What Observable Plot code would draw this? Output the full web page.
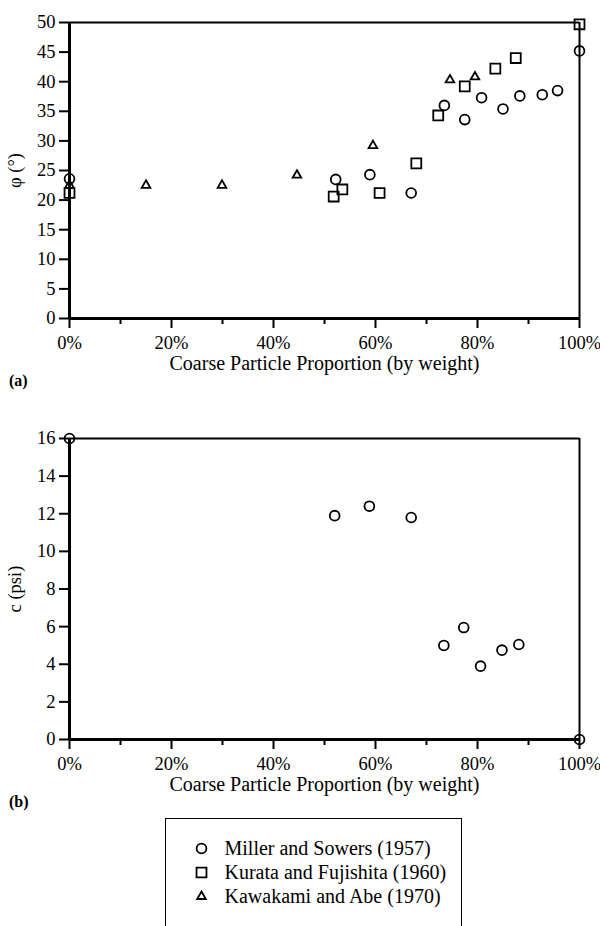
<!DOCTYPE html>
<html><head><meta charset="utf-8">
<script src="https://cdn.jsdelivr.net/npm/d3@7"></script>
<script src="https://cdn.jsdelivr.net/npm/@observablehq/plot@0.6"></script>
<style>
html,body{margin:0;padding:0;background:#fff;overflow:hidden}
#page{position:relative;width:600px;height:926px;font-family:"Liberation Serif",serif;color:#000;background:#fff}
#page svg, #page svg text{font-family:"Liberation Serif",serif !important}
.tag{position:absolute;font-weight:bold;font-size:16px;font-family:"Liberation Serif",serif}
#legend{position:absolute;left:165px;top:818px;width:297px;height:140px;border:1.5px solid #000;box-sizing:border-box}
</style></head><body><div id="page"></div>
<script>
// ---- data ----
const series = ["Miller and Sowers (1957)", "Kurata and Fujishita (1960)", "Kawakami and Abe (1970)"];
const symbols = ["circle", "square", "triangle"];
const xTitle = "Coarse Particle Proportion (by weight)";

// (a) friction angle phi (degrees) vs coarse proportion (%)
const millerPhiX = [0, 52.2, 58.9, 67.0, 73.5, 77.5, 80.8, 85.0, 88.3, 92.7, 95.7, 100];
const millerPhi  = [23.6, 23.5, 24.3, 21.2, 36.0, 33.6, 37.3, 35.4, 37.6, 37.8, 38.5, 45.2];
const kurataPhiX = [0, 51.8, 53.5, 60.8, 68.0, 72.3, 77.5, 83.5, 87.5, 100];
const kurataPhi  = [21.2, 20.6, 21.8, 21.2, 26.2, 34.3, 39.2, 42.2, 44.0, 49.7];
const kawakamiPhiX = [0, 15.0, 29.9, 44.6, 59.5, 74.6, 79.5];
const kawakamiPhi  = [22.5, 22.5, 22.5, 24.2, 29.2, 40.3, 40.8];

// (b) cohesion c (psi) vs coarse proportion (%)
const millerCX = [0, 52.0, 58.8, 67.0, 73.4, 77.3, 80.6, 84.8, 88.1, 100];
const millerC  = [16.0, 11.9, 12.4, 11.8, 5.0, 5.95, 3.9, 4.75, 5.05, 0];

// ticks
const xMajorTicks = [0, 20, 40, 60, 80, 100];
const xMinorTicks = [10, 30, 50, 70, 90];
const phiTicks = [0, 5, 10, 15, 20, 25, 30, 35, 40, 45, 50];
const cTicks = [0, 2, 4, 6, 8, 10, 12, 14, 16];

// ---- helpers ----
const FONT = "Liberation Serif";
const FS_TICK = 18.5;
const FS = 20;
const R = {circle: 4.9, square: 5.6, triangle: 3.2};
const rows = (xs, ys) => xs.map((x, i) => ({x, y: ys[i]}));
const dotsFor = (data, sym) => Plot.dot(data, {x: "x", y: "y", symbol: sym, r: R[sym], stroke: "black", strokeWidth: 1.8, fill: "none"});

function chart({height, marginTop, marginBottom, yMax, yTicks, yLabel, sets}) {
  return Plot.plot({
    width: 600, height, marginTop, marginBottom, marginLeft: 69, marginRight: 21,
    style: {fontFamily: FONT, fontSize: FS_TICK + "px", color: "black", background: "white", overflow: "visible"},
    x: {domain: [0, 100]},
    y: {domain: [0, yMax]},
    marks: [
      Plot.ruleY([yMax], {strokeWidth: 2}),
      Plot.ruleX([100], {strokeWidth: 2}),
      Plot.axisY({ticks: yTicks, tickSize: 10, tickPadding: 4, strokeWidth: 2, fontSize: FS_TICK, fontFamily: FONT, label: yLabel, labelAnchor: "center", labelOffset: 62, labelArrow: "none"}),
      Plot.axisX({ticks: xMajorTicks, tickSize: 10, tickPadding: 7, strokeWidth: 2, fontSize: FS_TICK, fontFamily: FONT, tickFormat: d => d + "%", label: null}),
      Plot.axisX({ticks: xMinorTicks, tickSize: 6, strokeWidth: 2, tickFormat: () => "", label: null}),
      Plot.text([xTitle], {text: d => d, frameAnchor: "bottom", dy: 45, lineAnchor: "middle", fontSize: FS, fontFamily: FONT}),
      Plot.ruleX([0], {strokeWidth: 3}),
      Plot.ruleY([0], {strokeWidth: 3}),
      ...sets.map(([data, sym]) => dotsFor(data, sym))
    ]
  });
}

const page = document.getElementById("page");
function place(el, left, top) { el.style.position = "absolute"; el.style.left = left + "px"; el.style.top = top + "px"; page.appendChild(el); }

const chartA = chart({
  height: 380, marginTop: 22, marginBottom: 62, yMax: 50, yTicks: phiTicks, yLabel: "φ (°)",
  sets: [[rows(millerPhiX, millerPhi), "circle"], [rows(kurataPhiX, kurataPhi), "square"], [rows(kawakamiPhiX, kawakamiPhi), "triangle"]]
});
place(chartA, 0, 0);

const chartB = chart({
  height: 401, marginTop: 38, marginBottom: 62, yMax: 16, yTicks: cTicks, yLabel: "c (psi)",
  sets: [[rows(millerCX, millerC), "circle"]]
});
place(chartB, 0, 400);

const tagA = document.createElement("div"); tagA.className = "tag"; tagA.textContent = "(a)"; place(tagA, 9, 372);
const tagB = document.createElement("div"); tagB.className = "tag"; tagB.textContent = "(b)"; place(tagB, 9, 793);

// legend
const legendBox = document.createElement("div"); legendBox.id = "legend"; page.appendChild(legendBox);
const legendRows = series.map((name, i) => ({name, symbol: symbols[i]}));
const legend = Plot.plot({
  width: 294, height: 120, margin: 0,
  style: {fontFamily: FONT, fontSize: FS + "px", color: "black", background: "transparent"},
  x: {domain: [0, 1], axis: null},
  y: {type: "point", domain: series, range: [16, 89], axis: null},
  marks: [
    ...legendRows.map(d => Plot.dot([d], {y: "name", frameAnchor: "left", dx: 35, symbol: d.symbol, r: R[d.symbol], stroke: "black", strokeWidth: 1.8, fill: "none"})),
    Plot.text(legendRows, {y: "name", text: "name", frameAnchor: "left", dx: 58, textAnchor: "start", lineAnchor: "middle", fontSize: FS, fontFamily: FONT})
  ]
});
legend.style.position = "absolute"; legend.style.left = "0px"; legend.style.top = "0px";
legendBox.appendChild(legend);
</script>
</body></html>
